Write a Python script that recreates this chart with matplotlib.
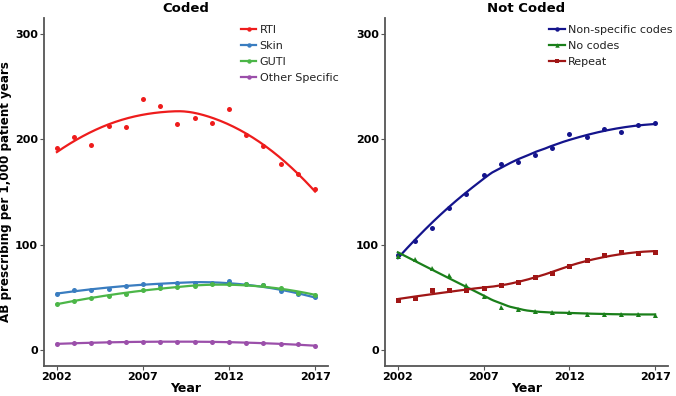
import numpy as np
import matplotlib
matplotlib.use("Agg")
import matplotlib.pyplot as plt
from matplotlib.lines import Line2D

years = list(range(2002, 2018))

rti = [192, 202, 195, 212.6, 212, 238.6, 231.6, 214.9, 220.5, 215.8, 229, 203.8, 194, 176.3, 167.5, 152.6]
skin = [53.7, 56.9, 57.5, 57.8, 60.7, 62.6, 62, 63.8, 64, 64, 65.4, 62.6, 61.6, 56.2, 53, 50.2]
guti = [43.9, 47, 49.6, 51.5, 53.4, 56.6, 58.5, 59.7, 60.4, 62.6, 62.6, 62.3, 61.6, 58.5, 54.4, 52.5]
other = [6, 6.6, 7, 7.6, 7.3, 8.2, 8.2, 7.9, 7.9, 7.9, 7.9, 7, 7, 5.7, 5.4, 4.1]

nonspec = [90.4, 103.6, 116, 135.2, 148.5, 166.2, 176.3, 178.2, 185.5, 191.5, 205.3, 202.2, 209.5, 207, 213.9, 215.2]
nocodes = [89.4, 86.9, 78.4, 71.1, 61.6, 51.8, 41.4, 38.9, 37, 36.3, 36.3, 34.4, 34.7, 34.1, 34.7, 33.2]
repeat = [47.4, 49.9, 56.6, 56.9, 57, 58.5, 61.6, 64.7, 69.2, 73, 79.9, 85.3, 90.7, 92.9, 91.9, 93.2]

coded_names = ["RTI", "Skin", "GUTI", "Other Specific"]
notcoded_names = ["Non-specific codes", "No codes", "Repeat"]
yticks = [0, 100, 200, 300]
xticks = [2002, 2007, 2012, 2017]


def loess(x, y, xs, span=0.75):
    x = np.asarray(x, float)
    y = np.asarray(y, float)
    n = len(x)
    q = int(np.floor(n * span))
    out = []
    for x0 in xs:
        d = np.abs(x - x0)
        h = np.sort(d)[min(q, n) - 1]
        if span > 1:
            h = h * span
        h = max(h, 1e-9) * 1.0001
        w = np.clip(1 - (d / h) ** 3, 0, None) ** 3
        X = np.vstack([np.ones(n), x - x0, (x - x0) ** 2]).T
        W = np.diag(w)
        beta = np.linalg.lstsq(X.T @ W @ X, X.T @ W @ y, rcond=None)[0]
        out.append(beta[0])
    return np.array(out)


fig = plt.figure(figsize=(6.76, 3.96), dpi=100)
ax1 = fig.add_axes([44 / 676, 30 / 396, 284 / 676, 348 / 396])
ax2 = fig.add_axes([385 / 676, 30 / 396, 283 / 676, 348 / 396])

xs = np.linspace(2002, 2017, 200)

coded = [
    (rti, "#EE1C1C", "o"),
    (skin, "#3A7DC0", "o"),
    (guti, "#4CB648", "o"),
    (other, "#9B4FAA", "o"),
]
notcoded = [
    (nonspec, "#14148C", "o"),
    (nocodes, "#1A7F1A", "^"),
    (repeat, "#A01616", "s"),
]


def draw(ax, series, names, title, ylabel, span, anchor):
    handles = []
    for (vals, col, mk), nm in zip(series, names):
        ax.plot(years, vals, linestyle="none", marker=mk, markersize=3.6,
                color=col, markeredgewidth=0)
        ax.plot(xs, loess(years, vals, xs, span), color=col, linewidth=1.6)
        handles.append(Line2D([0], [0], color=col, linewidth=1.6, marker=mk,
                              markersize=3.2, markeredgewidth=0))
    ax.set_xlim(2001.25, 2017.75)
    ax.set_ylim(-15, 315)
    ax.set_xticks(xticks)
    ax.set_yticks(yticks)
    for s in ["top", "right"]:
        ax.spines[s].set_visible(False)
    for s in ["left", "bottom"]:
        ax.spines[s].set_color("#555555")
        ax.spines[s].set_linewidth(1.3)
    ax.tick_params(axis="both", colors="#555555", length=3, width=0.8,
                   labelcolor="black", labelsize=8, pad=1.5)
    for lab in ax.get_xticklabels() + ax.get_yticklabels():
        lab.set_fontweight("bold")
    ax.set_title(title, fontsize=9.5, fontweight="bold", pad=4)
    ax.set_xlabel("Year", fontsize=9, fontweight="bold", labelpad=0)
    if ylabel:
        ax.set_ylabel(ylabel, fontsize=8.6, fontweight="bold", labelpad=2)
    leg = ax.legend(handles, names, loc="upper right", frameon=False,
                    fontsize=8, handlelength=1.4, handletextpad=0.3,
                    labelspacing=0.55, borderaxespad=0.2,
                    bbox_to_anchor=anchor)
    for t in leg.get_texts():
        t.set_color("#222222")


draw(ax1, coded, coded_names, "Coded", "AB prescribing per 1,000 patient years",
     1.0, (1.06, 1.0))
draw(ax2, notcoded, notcoded_names, "Not Coded", None, 0.75, (1.04, 1.0))

fig.savefig("out.png", dpi=100)
